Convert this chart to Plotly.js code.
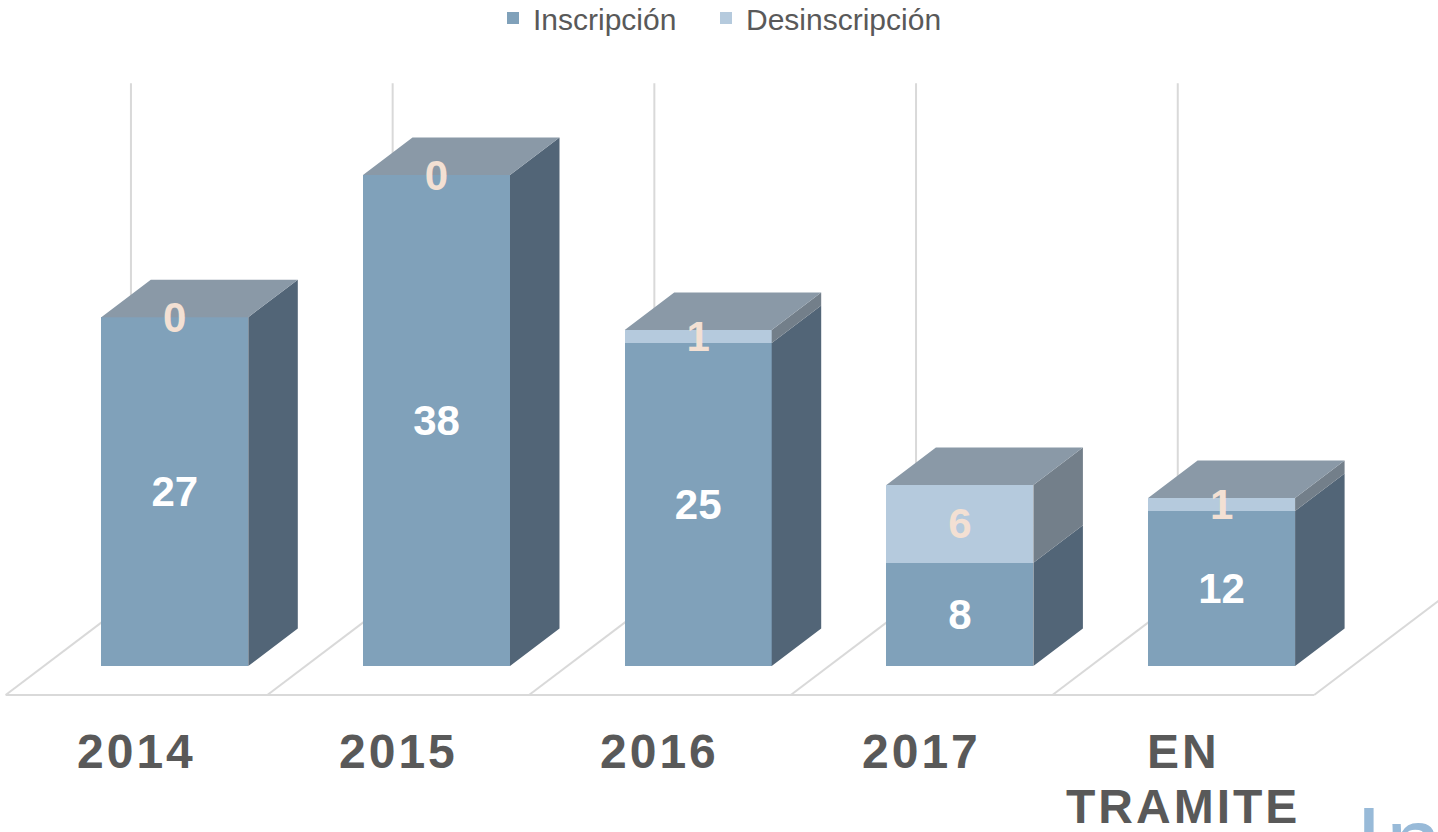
<!DOCTYPE html>
<html><head><meta charset="utf-8">
<script src="https://cdn.plot.ly/plotly-3.0.1.min.js"></script>
<style>
html,body{margin:0;padding:0;background:#fff;overflow:hidden}
#chart{width:1438px;height:832px}
.annotation-text{letter-spacing:3px}
</style></head><body><div id="chart"></div>
<script>
// ---- data ----
const categories = ['2014', '2015', '2016', '2017', 'EN TRAMITE'];
const inscripcion = [27, 38, 25, 8, 12];
const desinscripcion = [0, 0, 1, 6, 1];
const seriesNames = ['Inscripción', 'Desinscripción'];
const yAxisMax = 40;
const watermarkText = 'Ins';

// ---- geometry / style (pixel mapping of the pseudo-3D view) ----
const W = 1438, H = 832;
const PX_X = 261.7, PX_Y = 12.92, X0PX = 174.8, Y0PX = 666;
const xRange = [-X0PX / PX_X, (W - X0PX) / PX_X];
const yRange = [-(H - Y0PX) / PX_Y, Y0PX / PX_Y];
const depth = {dx: 49.5 / PX_X, dy: 37.5 / PX_Y};
const floorFront = {dx: -38.3 / PX_X, dy: -29 / PX_Y};
const floorBack = {dx: 87 / PX_X, dy: 65.9 / PX_Y};
const barW = 147 / PX_X;
const TEXT_SHIFT = 4 / PX_Y;   // nudge value labels down to visual centre
const FONT = 'Liberation Sans, Arial, sans-serif';
const colors = {
  insFront: '#80A1BA', insSide: '#526577',
  desFront: '#B5CADD', desSide: '#737F8A',
  top: '#8A99A7', grid: '#D9D9D9', label: '#595959',
  insText: '#FFFFFF', desText: '#F3E0D3', watermark: '#98BAD8'
};

const idx = categories.map((_, i) => i);
const totals = idx.map(i => inscripcion[i] + desinscripcion[i]);

function polyTrace(polys, fill) {
  const xs = [], ys = [];
  polys.forEach(p => { p.forEach(([x, y]) => { xs.push(x); ys.push(y); }); xs.push(null); ys.push(null); });
  return {type: 'scatter', mode: 'lines', x: xs, y: ys, fill: 'toself', fillcolor: fill,
    line: {width: 0, color: fill}, hoverinfo: 'skip', showlegend: false};
}
function sidePoly(i, y0, y1) {
  const xr = i + barW / 2;
  return [[xr, y0], [xr + depth.dx, y0 + depth.dy], [xr + depth.dx, y1 + depth.dy], [xr, y1], [xr, y0]];
}
function topPoly(i, t) {
  const xl = i - barW / 2, xr = i + barW / 2;
  return [[xl, t], [xr, t], [xr + depth.dx, t + depth.dy], [xl + depth.dx, t + depth.dy], [xl, t]];
}

const traces = [
  {type: 'bar', name: seriesNames[0], x: idx, y: inscripcion, width: barW, legend: 'legend',
   marker: {color: colors.insFront, line: {width: 0}}, hoverinfo: 'skip'},
  {type: 'bar', name: seriesNames[1], x: idx, y: desinscripcion, width: barW, legend: 'legend2',
   marker: {color: colors.desFront, line: {width: 0}}, hoverinfo: 'skip'},
  polyTrace(idx.map(i => sidePoly(i, 0, inscripcion[i])), colors.insSide),
  polyTrace(idx.filter(i => desinscripcion[i] > 0).map(i => sidePoly(i, inscripcion[i], totals[i])), colors.desSide),
  polyTrace(idx.map(i => topPoly(i, totals[i])), colors.top),
  {type: 'scatter', mode: 'text', x: idx, y: inscripcion.map(v => v / 2 - TEXT_SHIFT),
   text: inscripcion.map(String), textposition: 'middle center', cliponaxis: false,
   textfont: {family: FONT, size: 42, color: colors.insText, weight: 'bold'},
   hoverinfo: 'skip', showlegend: false},
  {type: 'scatter', mode: 'text', x: idx, y: idx.map(i => inscripcion[i] + desinscripcion[i] / 2 - TEXT_SHIFT),
   text: desinscripcion.map(String), textposition: 'middle center', cliponaxis: false,
   textfont: {family: FONT, size: 42, color: colors.desText, weight: 'bold'},
   hoverinfo: 'skip', showlegend: false}
];

// floor and back-wall gridlines at category boundaries
const shapes = [];
const bounds = [];
for (let b = -0.5; b <= categories.length - 0.5 + 1e-9; b += 1) bounds.push(b);
const lineStyle = {color: colors.grid, width: 2};
shapes.push({type: 'line', layer: 'below', xref: 'x', yref: 'y',
  x0: bounds[0] + floorFront.dx, y0: floorFront.dy,
  x1: bounds[bounds.length - 1] + floorFront.dx, y1: floorFront.dy, line: lineStyle});
bounds.forEach(b => {
  shapes.push({type: 'line', layer: 'below', xref: 'x', yref: 'y',
    x0: b + floorFront.dx, y0: floorFront.dy, x1: b + floorBack.dx, y1: floorBack.dy, line: lineStyle});
  shapes.push({type: 'line', layer: 'below', xref: 'x', yref: 'y',
    x0: b + floorBack.dx, y0: floorBack.dy, x1: b + floorBack.dx, y1: yAxisMax + floorBack.dy, line: lineStyle});
});

// category labels (one annotation per text line)
const annotations = [];
const LABEL_TOP_PX = 723, LINE_PX = 55;
categories.forEach((c, i) => {
  c.split(' ').forEach((line, j) => {
    annotations.push({xref: 'x', yref: 'y', x: i + floorFront.dx,
      y: (Y0PX - (LABEL_TOP_PX + LINE_PX * j)) / PX_Y,
      xanchor: 'center', yanchor: 'top', showarrow: false, text: line,
      font: {family: FONT, size: 48, color: colors.label, weight: 'bold'}});
  });
});
annotations.push({xref: 'paper', yref: 'paper', x: 1353 / W, y: 1 - 784 / H,
  xanchor: 'left', yanchor: 'top', showarrow: false, text: watermarkText,
  font: {family: FONT, size: 100, color: colors.watermark}});

const legendBase = {orientation: 'h', xanchor: 'left', y: 1 + 8 / H, yanchor: 'top',
  font: {family: FONT, size: 30, color: colors.label}, bgcolor: 'rgba(0,0,0,0)'};

const layout = {
  width: W, height: H, margin: {l: 0, r: 0, t: 0, b: 0, autoexpand: false},
  paper_bgcolor: '#FFFFFF', plot_bgcolor: 'rgba(0,0,0,0)',
  barmode: 'stack', showlegend: true,
  xaxis: {range: xRange, visible: false, fixedrange: true},
  yaxis: {range: yRange, visible: false, fixedrange: true},
  legend: Object.assign({}, legendBase, {x: (536 - 43) / W}),
  legend2: Object.assign({}, legendBase, {x: (749 - 43) / W}),
  shapes: shapes, annotations: annotations
};
Plotly.newPlot('chart', traces, layout, {displayModeBar: false, staticPlot: true});
</script></body></html>
